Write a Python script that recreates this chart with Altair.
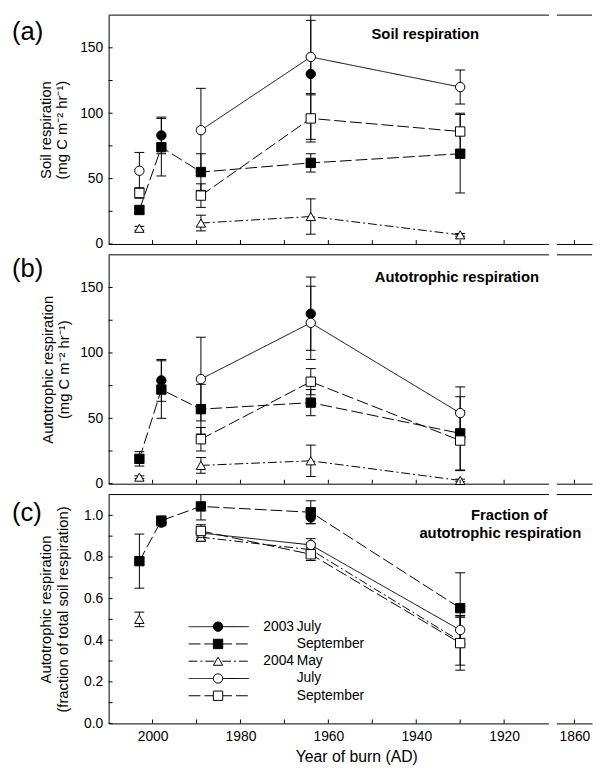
import altair as alt
import pandas as pd

# ---------------- data ----------------
YEARS = [2003, 1998, 1989, 1964, 1930]
SERIES = ["2003 July", "2003 September", "2004 May", "2004 July", "2004 September"]
LEGEND_YEAR = ["2003", "", "2004", "", ""]
LEGEND_MONTH = ["July", "September", "May", "July", "September"]

SHAPES = ["circle", "square", "triangle-up", "circle", "square"]
FILLS = ["black", "black", "white", "white", "white"]
DASHES = [[1, 0], [12, 4], [9, 3, 2, 3], [1, 0], [12, 4]]

# (a) soil respiration, mg C m-2 hr-1 (mean, error)
SOIL_2003_JUL = [None, 83, None, 130, None]
SOIL_2003_SEP = [26, 74, 55, 62, 69]
SOIL_2004_MAY = [12, None, 16, 21, 7]
SOIL_2004_JUL = [56, None, 87, 143, 120]
SOIL_2004_SEP = [39, None, 37, 96, 86]
SOIL_2003_JUL_ERR = [None, 14, None, 50, None]
SOIL_2003_SEP_ERR = [3, 22, 14, 7, 30]
SOIL_2004_MAY_ERR = [1.5, None, 6, 13.5, 1]
SOIL_2004_JUL_ERR = [14, None, 32, 28, 13]
SOIL_2004_SEP_ERR = [4, None, 9, 18, 14]

# (b) autotrophic respiration
AUTO_2003_JUL = [None, 79, None, 130, None]
AUTO_2003_SEP = [19, 72, 57, 62, 38.5]
AUTO_2004_MAY = [5, None, 14, 17.5, 2.5]
AUTO_2004_JUL = [None, None, 80, 123, 54]
AUTO_2004_SEP = [None, None, 34, 78, 33]
AUTO_2003_JUL_ERR = [None, 16, None, 28, None]
AUTO_2003_SEP_ERR = [5.5, 22, 19, 10, 28]
AUTO_2004_MAY_ERR = [1, None, 6, 12, 1]
AUTO_2004_JUL_ERR = [None, None, 32, 28, 20]
AUTO_2004_SEP_ERR = [None, None, 9, 10, 23]

# (c) fraction of autotrophic respiration
FRAC_2003_JUL = [None, 0.965, None, 0.99, None]
FRAC_2003_SEP = [0.78, 0.975, 1.043, 1.015, 0.554]
FRAC_2004_MAY = [0.50, None, 0.895, 0.835, 0.395]
FRAC_2004_JUL = [None, None, 0.915, 0.858, 0.449]
FRAC_2004_SEP = [None, None, 0.925, 0.813, 0.386]
FRAC_2003_JUL_ERR = [None, 0.015, None, 0.03, None]
FRAC_2003_SEP_ERR = [0.13, 0.015, 0.065, 0.055, 0.17]
FRAC_2004_MAY_ERR = [0.035, None, 0.02, 0.03, 0.115]
FRAC_2004_JUL_ERR = [None, None, 0.03, 0.03, 0.07]
FRAC_2004_SEP_ERR = [None, None, 0.03, 0.03, 0.13]

# axis tick values (1904 is the position of the post-break "1860" tick)
X_LABELS = [2000, 1980, 1960, 1940, 1920, 1904]
X_TICKS = [2000, 1990, 1980, 1970, 1960, 1950, 1940, 1930, 1920, 1904]
RESP_LABELS = [0, 50, 100, 150]
RESP_TICKS = [0, 25, 50, 75, 100, 125, 150]
FRAC_LABELS = [0.0, 0.2, 0.4, 0.6, 0.8, 1.0]
FRAC_TICKS = [0.0, 0.1, 0.2, 0.3, 0.4, 0.5, 0.6, 0.7, 0.8, 0.9, 1.0]

UNIT = "(mg C m\u207b\u00b2 hr\u207b\u00b9)"

# ---------------- layout ----------------
W, H = 490, 232
FONT = "Liberation Sans"
X_DOMAIN = [2010, 1900]
BREAK = [1909.8, 1908.0]


def make_df(values, errs, ymax):
    rows, caps = [], []
    for s, vals, es in zip(SERIES, values, errs):
        seg = 0
        for yr, v, e in zip(YEARS, vals, es):
            if v is None:
                seg += 1
                continue
            hi = v + e
            rows.append(dict(series=s, year=yr, value=v, lo=v - e, hi=min(hi, ymax),
                             seg=f"{s}|{seg}"))
            caps.append(dict(year=yr, cap=v - e))
            if hi <= ymax:
                caps.append(dict(year=yr, cap=hi))
    return pd.DataFrame(rows), pd.DataFrame(caps)


shape_scale = alt.Scale(domain=SERIES, range=SHAPES)
fill_scale = alt.Scale(domain=SERIES, range=FILLS)
dash_scale = alt.Scale(domain=SERIES, range=DASHES)


def panel(dfs, ydomain, ylabels, yticks, yfmt, ytitle, tpad, letter, letter_y,
          notes, bottom, legend=False):
    df, capdf = dfs
    xs = alt.Scale(domain=X_DOMAIN, nice=False, zero=False)
    ys = alt.Scale(domain=ydomain, nice=False, zero=False)
    if bottom:
        xaxis = alt.Axis(values=X_LABELS, format="d",
                         labelExpr="datum.value == 1904 ? '1860' : datum.label",
                         ticks=False, grid=False, labelFontSize=14, labelPadding=6,
                         labelColor="black", domainColor="black",
                         title="Year of burn (AD)", titleFontSize=16,
                         titleFontWeight="normal", titlePadding=6, titleColor="black",
                         titleX=251)
    else:
        xaxis = alt.Axis(labels=False, ticks=False, grid=False, title=None,
                         domainColor="black")
    yaxis = alt.Axis(values=ylabels, format=yfmt, ticks=False, grid=False,
                     labelFontSize=14, labelPadding=6, labelColor="black",
                     domainColor="black", title=ytitle, titleFontSize=15,
                     titleFontWeight="normal", titlePadding=tpad, titleColor="black",
                     titleLineHeight=17)

    def X(f):
        return alt.X(f, type="quantitative", scale=xs, axis=xaxis)

    def Y(f):
        return alt.Y(f, type="quantitative", scale=ys, axis=yaxis)

    base = alt.Chart(df)
    one = pd.DataFrame({"k": [0]})

    top = alt.Chart(one).mark_rule(color="black", strokeWidth=1).encode(
        x=alt.value(0), x2=alt.value(W), y=alt.value(0))
    lines = base.mark_line(color="black", strokeWidth=1).encode(
        x=X("year"), y=Y("value"),
        strokeDash=alt.StrokeDash("series:N", scale=dash_scale, legend=None),
        detail="seg:N")
    bars = base.mark_rule(color="black", strokeWidth=1).encode(
        x=X("year"), y=Y("lo"), y2="hi")
    caps = alt.Chart(capdf).mark_rule(color="black", strokeWidth=1,
                                      xOffset=-5, x2Offset=5).encode(
        x=X("year"), x2="year", y=Y("cap"))
    pts = base.mark_point(filled=True, stroke="black", strokeWidth=1, size=90,
                          opacity=1).encode(
        x=X("year"), y=Y("value"),
        shape=alt.Shape("series:N", scale=shape_scale, legend=None),
        fill=alt.Fill("series:N", scale=fill_scale, legend=None))
    xt = alt.Chart(pd.DataFrame({"year": X_TICKS})).mark_rule(
        color="black", strokeWidth=1).encode(
        x=X("year"), y=alt.value(H), y2=alt.value(H - 4))
    yt = alt.Chart(pd.DataFrame({"value": yticks})).mark_rule(
        color="black", strokeWidth=1).encode(
        y=Y("value"), x=alt.value(0), x2=alt.value(4))
    brk_top = alt.Chart(one).mark_rect(color="white").encode(
        x=alt.datum(BREAK[0]), x2=alt.datum(BREAK[1]),
        y=alt.value(-1.5), y2=alt.value(1.5))
    brk_bot = alt.Chart(one).mark_rect(color="white").encode(
        x=alt.datum(BREAK[0]), x2=alt.datum(BREAK[1]),
        y=alt.value(H - 1.5), y2=alt.value(H + 1.5))
    lab = alt.Chart(one).mark_text(align="left", baseline="top", fontSize=26,
                                   color="black").encode(
        x=alt.value(-98), y=alt.value(letter_y), text=alt.value(letter))
    layers = [top, lines, bars, caps, pts, xt, yt, brk_top, brk_bot, lab]
    for txt, nx, ny in notes:
        layers.append(alt.Chart(one).mark_text(
            align="center", baseline="middle", fontSize=15, fontWeight="bold",
            color="black").encode(x=alt.value(nx), y=alt.value(ny),
                                  text=alt.value(txt)))
    if legend:
        n = len(SERIES)
        leg = pd.DataFrame({
            "series": SERIES,
            "yl": LEGEND_YEAR,
            "ml": LEGEND_MONTH,
            "value": [0.465 - 0.083 * i for i in range(n)],
            "x1": [1991.8] * n, "x2": [1978.1] * n, "xm": [1985.1] * n,
            "xy": [1974.8] * n, "xmo": [1967.2] * n,
        })
        lb = alt.Chart(leg)
        layers.append(lb.mark_rule(color="black", strokeWidth=1).encode(
            x=X("x1"), x2="x2", y=Y("value"),
            strokeDash=alt.StrokeDash("series:N", scale=dash_scale, legend=None)))
        layers.append(lb.mark_point(filled=True, stroke="black", strokeWidth=1,
                                    size=90, opacity=1).encode(
            x=X("xm"), y=Y("value"),
            shape=alt.Shape("series:N", scale=shape_scale, legend=None),
            fill=alt.Fill("series:N", scale=fill_scale, legend=None)))
        layers.append(lb.mark_text(align="left", baseline="middle", fontSize=14,
                                   color="black").encode(
            x=X("xy"), y=Y("value"), text="yl:N"))
        layers.append(lb.mark_text(align="left", baseline="middle", fontSize=14,
                                   color="black").encode(
            x=X("xmo"), y=Y("value"), text="ml:N"))
    return alt.layer(*layers).properties(width=W, height=H)


soil = make_df([SOIL_2003_JUL, SOIL_2003_SEP, SOIL_2004_MAY, SOIL_2004_JUL, SOIL_2004_SEP],
               [SOIL_2003_JUL_ERR, SOIL_2003_SEP_ERR, SOIL_2004_MAY_ERR,
                SOIL_2004_JUL_ERR, SOIL_2004_SEP_ERR], 175)
auto = make_df([AUTO_2003_JUL, AUTO_2003_SEP, AUTO_2004_MAY, AUTO_2004_JUL, AUTO_2004_SEP],
               [AUTO_2003_JUL_ERR, AUTO_2003_SEP_ERR, AUTO_2004_MAY_ERR,
                AUTO_2004_JUL_ERR, AUTO_2004_SEP_ERR], 175)
frac = make_df([FRAC_2003_JUL, FRAC_2003_SEP, FRAC_2004_MAY, FRAC_2004_JUL, FRAC_2004_SEP],
               [FRAC_2003_JUL_ERR, FRAC_2003_SEP_ERR, FRAC_2004_MAY_ERR,
                FRAC_2004_JUL_ERR, FRAC_2004_SEP_ERR], 1.1)

pa = panel(soil, [0, 175], RESP_LABELS, RESP_TICKS, "d",
           ["Soil respiration", UNIT], 10, "(a)", 4,
           [("Soil respiration", 321, 19)], False)
pb = panel(auto, [0, 175], RESP_LABELS, RESP_TICKS, "d",
           ["Autotrophic respiration", UNIT], 8, "(b)", 1,
           [("Autotrophic respiration", 353, 23)], False)
pc = panel(frac, [0, 1.1], FRAC_LABELS, FRAC_TICKS, ".1f",
           ["Autotrophic respiration", "(fraction of total soil respiration)"], 13,
           "(c)", 6,
           [("Fraction of", 406, 21), ("autotrophic respiration", 397, 39)],
           True, legend=True)

chart = alt.vconcat(pa, pb, pc, spacing=2).properties(
    padding={"left": 4, "top": 0, "right": 0, "bottom": 0}
).configure(font=FONT).configure_view(strokeWidth=0)

chart.save("out.html", embed_options={"renderer": "svg", "actions": False})
